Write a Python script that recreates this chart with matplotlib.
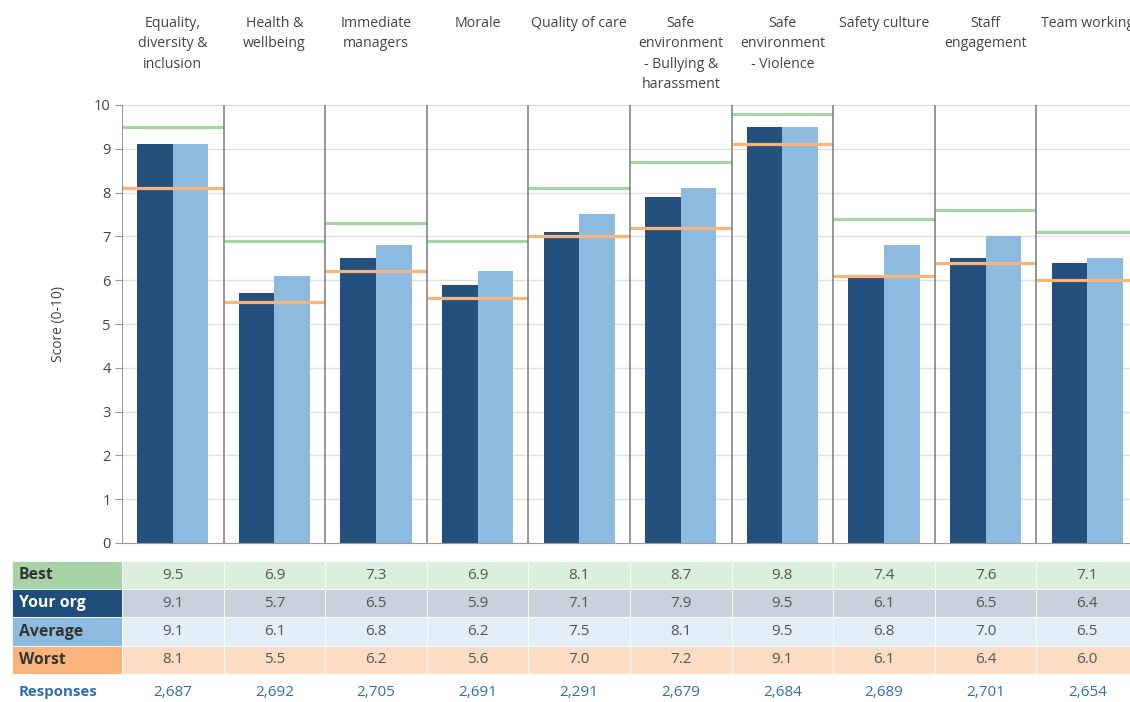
import numpy as np
import matplotlib
matplotlib.use("Agg")
import matplotlib.pyplot as plt
from matplotlib.patches import Rectangle

plt.rcParams['font.family'] = ['Open Sans', 'DejaVu Sans']

categories = ['Equality,\ndiversity &\ninclusion', 'Health &\nwellbeing', 'Immediate\nmanagers',
              'Morale', 'Quality of care', 'Safe\nenvironment\n- Bullying &\nharassment',
              'Safe\nenvironment\n- Violence', 'Safety culture', 'Staff\nengagement', 'Team working']
best = [9.5, 6.9, 7.3, 6.9, 8.1, 8.7, 9.8, 7.4, 7.6, 7.1]
your_org = [9.1, 5.7, 6.5, 5.9, 7.1, 7.9, 9.5, 6.1, 6.5, 6.4]
average = [9.1, 6.1, 6.8, 6.2, 7.5, 8.1, 9.5, 6.8, 7.0, 6.5]
worst = [8.1, 5.5, 6.2, 5.6, 7.0, 7.2, 9.1, 6.1, 6.4, 6.0]
responses = ['2,687', '2,692', '2,705', '2,691', '2,291', '2,679', '2,684', '2,689', '2,701', '2,654']

DARK = '#24507e'
LIGHT = '#8dbbe0'
GREEN = '#a6d4a6'
ORANGE = '#f9b47c'

W, H = 1130, 702
fig = plt.figure(figsize=(W / 100, H / 100), dpi=100)

n = len(categories)
colw = 101.6
x = np.arange(n)

# main chart
ax = fig.add_axes([122 / W, 1 - 543 / H, n * colw / W, 438 / H])
ax.set_xlim(-0.5, n - 0.5)
ax.set_ylim(0, 10)
ax.bar(x - 0.175, your_org, width=0.35, color=DARK, zorder=2)
ax.bar(x + 0.175, average, width=0.35, color=LIGHT, zorder=2)
ax.hlines(best, x - 0.5, x + 0.5, color=GREEN, lw=2.3, zorder=3)
ax.hlines(worst, x - 0.5, x + 0.5, color=ORANGE, lw=2.3, zorder=3)

for yy in range(1, 11):
    ax.axhline(yy, color='#e0e0e0', lw=1, zorder=0)
for b in np.arange(n + 1) - 0.5:
    ax.axvline(b, color='#7a7a7a', lw=1.1, zorder=4)

for s in ['top', 'right', 'left']:
    ax.spines[s].set_visible(False)
ax.spines['bottom'].set_color('#9a9a9a')
ax.set_yticks(range(0, 11))
ax.tick_params(axis='y', length=5, color='#9a9a9a', labelsize=10.5, labelcolor='#444444', pad=3)
ax.set_xticks([])
ax.set_ylabel('Score (0-10)', fontsize=10, color='#444444', labelpad=20)

for i, c in enumerate(categories):
    ax.text(i, 10.0 + 89 / 43.8, c, ha='center', va='top', fontsize=10.2, color='#444444',
            linespacing=1.48, transform=ax.transData, clip_on=False)

# table below
tl = 12
tax = fig.add_axes([tl / W, 0, (122 + n * colw - tl) / W, (H - 561) / H])
left_x = -0.5 - (122 - tl) / colw
tax.set_xlim(left_x, n - 0.5)
tax.set_ylim((H - 561) / 28.2, 0)
tax.axis('off')

rows = [('Best', best, GREEN, '#dcefdc', '#333333'),
        ('Your org', your_org, '#1f4e7c', '#c9d1dc', 'white'),
        ('Average', average, LIGHT, '#e2eef8', '#333333'),
        ('Worst', worst, ORANGE, '#fcdcc4', '#333333')]
for r, (label, vals, lab_bg, cell_bg, lab_fc) in enumerate(rows):
    tax.add_patch(Rectangle((left_x, r), -0.5 - left_x, 1, facecolor=lab_bg, edgecolor='white', lw=0.6))
    tax.text(left_x + 0.07, r + 0.5, label, ha='left', va='center', fontsize=11.3,
             fontweight='bold', color=lab_fc)
    for i, v in enumerate(vals):
        tax.add_patch(Rectangle((i - 0.5, r), 1, 1, facecolor=cell_bg, edgecolor='white', lw=0.6))
        tax.text(i, r + 0.5, f'{v:.1f}', ha='center', va='center', fontsize=11, color='#555555')

resp_y = (692 - 561) / 28.2
tax.text(left_x + 0.07, resp_y, 'Responses', ha='left', va='center', fontsize=10.8,
         fontweight='bold', color='#2f6eb5')
for i, rsp in enumerate(responses):
    tax.text(i, resp_y, rsp, ha='center', va='center', fontsize=11, color='#2f6eb5')

fig.savefig('out.png', dpi=100)
